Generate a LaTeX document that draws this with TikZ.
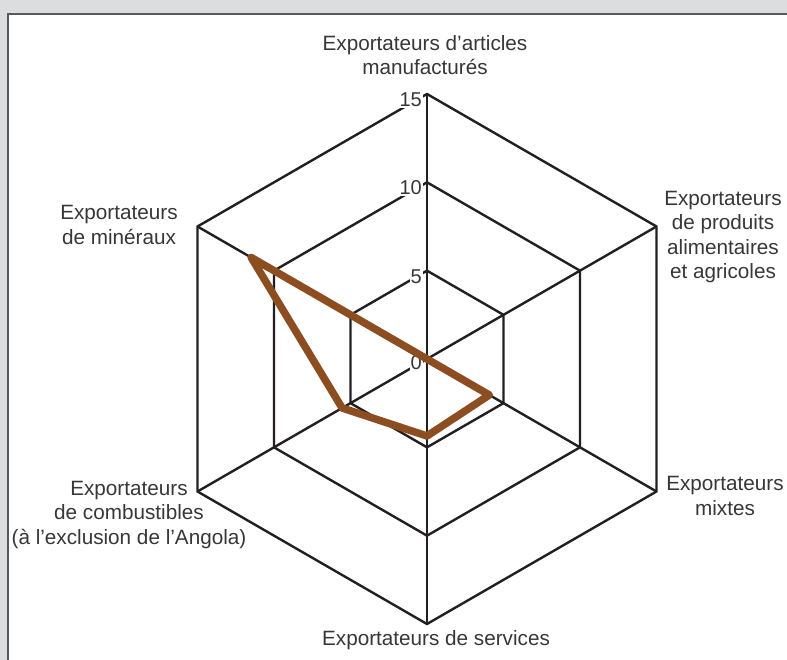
\documentclass[tikz,border=0pt]{standalone}
\usepackage{fontspec}
\setmainfont{Liberation Sans}
\usepackage{tikz}

\definecolor{bggray}{RGB}{220,221,222}
\definecolor{gridline}{RGB}{35,31,32}
\definecolor{seriesbrown}{RGB}{140,78,32}
\definecolor{labelgray}{RGB}{55,55,55}

\tikzset{
  axislabel/.style={align=center, text=labelgray, font=\fontsize{20.7}{24.5}\selectfont, inner sep=0pt},
  ticklabel/.style={anchor=east, fill=white, text=labelgray, font=\fontsize{20}{22}\selectfont, inner sep=1pt},
  gridhex/.style={draw=gridline, line width=2.4pt, line join=miter},
  series/.style={draw=seriesbrown, line width=7.5pt, line join=round}
}

\begin{document}
\begin{tikzpicture}[x=1pt,y=1pt]
  \useasboundingbox (-427,-301) rectangle (360,359);
  \fill[bggray] (-427,-301) rectangle (360,359);
  \draw[fill=white, draw=gray!70!black, line width=1.5pt] (-419,-320) rectangle (380,345);

  % axis ends (15 units = 265pt)
  \coordinate (centre) at (0,0);
  \foreach \ang [count=\i] in {90,30,-30,-90,210,150}
    \coordinate (ax-\i) at (\ang:265);

  % hexagons at 5, 10, 15
  \foreach \r in {88.33,176.67,265}
    \draw[gridhex] (90:\r) -- (30:\r) -- (-30:\r) -- (-90:\r) -- (210:\r) -- (150:\r) -- cycle;

  % spokes
  \foreach \i in {1,...,6}
    \draw[gridhex] (centre) -- (ax-\i);

  % scale
  \node[ticklabel] (tick-15) at (-4,259) {15};
  \node[ticklabel] (tick-10) at (-4,171) {10};
  \node[ticklabel] (tick-5)  at (-4,82)  {5};
  \node[ticklabel] (tick-0)  at (-4,-4)  {0};

  % axis labels
  \node[axislabel] (manu)  at (-2,304)    {Exportateurs d’articles\\manufacturés};
  \node[axislabel] (agri)  at (296,122)   {Exportateurs\\de produits\\alimentaires\\et agricoles};
  \node[axislabel] (mixed) at (298,-137)  {Exportateurs\\mixtes};
  \node[axislabel] (serv)  at (9,-281)    {Exportateurs de services};
  \node[axislabel] (fuel)  at (-298,-156) {Exportateurs\\de combustibles\\(à l’exclusion de l’Angola)};
  \node[axislabel] (miner) at (-308,134)  {Exportateurs\\de minéraux};

  % data
  \coordinate (d-1) at (90:0);
  \coordinate (d-2) at (30:0);
  \coordinate (d-3) at (-30:72);
  \coordinate (d-4) at (-90:77);
  \coordinate (d-5) at (210:98);
  \coordinate (d-6) at (150:203);
  \draw[series] (d-1) -- (d-2) -- (d-3) -- (d-4) -- (d-5) -- (d-6) -- cycle;
\end{tikzpicture}
\end{document}
